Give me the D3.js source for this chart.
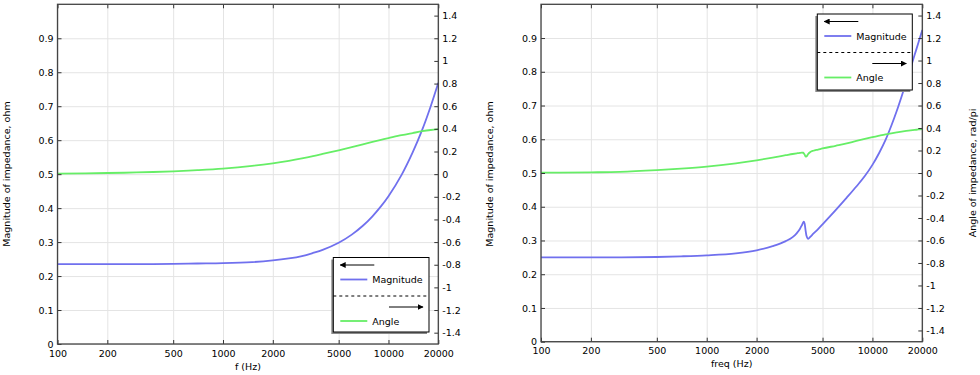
<!DOCTYPE html>
<html>
<head>
<meta charset="utf-8">
<script src="https://cdn.jsdelivr.net/npm/d3@7"></script>
<style>
  body { margin: 0; background: #fff; }
  svg text { font-family: "DejaVu Sans", sans-serif; font-size: 9.5px; fill: #000; }
</style>
</head>
<body>
<div id="chart"></div>
<script>
"use strict"

let width = 980;
let height = 375;

// tick labels
let freqTicks = [100, 200, 500, 1000, 2000, 5000, 10000, 20000];
let magTicks = [0, 0.1, 0.2, 0.3, 0.4, 0.5, 0.6, 0.7, 0.8, 0.9];
let angleTicks = [-1.4, -1.2, -1, -0.8, -0.6, -0.4, -0.2, 0, 0.2, 0.4, 0.6, 0.8, 1, 1.2, 1.4];

// left plot: f (Hz)
let freqA = [100, 200, 300, 500, 700, 1000, 1500, 2000, 2500, 3000, 3500, 4000, 5000, 6000, 7000, 8000, 9000, 10000, 12000, 14000, 16000, 18000, 20000];
let magA = [0.235, 0.235, 0.235, 0.236, 0.237, 0.238, 0.241, 0.246, 0.252, 0.259, 0.268, 0.277, 0.298, 0.322, 0.348, 0.376, 0.405, 0.435, 0.498, 0.564, 0.631, 0.700, 0.769];
let angleA = [0.005, 0.010, 0.015, 0.025, 0.035, 0.049, 0.073, 0.096, 0.118, 0.139, 0.159, 0.178, 0.211, 0.239, 0.264, 0.285, 0.303, 0.318, 0.344, 0.363, 0.379, 0.390, 0.397];

// right plot: freq (Hz), with the little resonance near 3.9 kHz
let freqB = [100, 200, 300, 500, 700, 1000, 1500, 2000, 2500, 3000, 3300, 3500, 3650, 3750, 3820, 3860, 3900, 3950, 4000, 4100, 4200, 4400, 4700, 5000, 6000, 7000, 8000, 9000, 10000, 11000, 12000, 13000, 14000, 15000, 16000, 17000, 18000, 19000, 20000];
let magB = [0.250, 0.250, 0.250, 0.251, 0.253, 0.256, 0.262, 0.271, 0.283, 0.298, 0.310, 0.322, 0.334, 0.345, 0.353, 0.356, 0.350, 0.330, 0.314, 0.305, 0.310, 0.320, 0.334, 0.348, 0.390, 0.427, 0.460, 0.491, 0.524, 0.560, 0.598, 0.640, 0.683, 0.727, 0.770, 0.812, 0.851, 0.888, 0.924];
let angleB = [0.003, 0.006, 0.010, 0.025, 0.038, 0.056, 0.086, 0.113, 0.137, 0.158, 0.169, 0.175, 0.179, 0.181, 0.180, 0.174, 0.163, 0.146, 0.148, 0.170, 0.185, 0.198, 0.208, 0.218, 0.242, 0.263, 0.285, 0.303, 0.318, 0.332, 0.344, 0.353, 0.361, 0.368, 0.374, 0.379, 0.383, 0.387, 0.390];

let magColor = "#7070ee";
let angleColor = "#66ee66";

let svg = d3.select("#chart")
    .append("svg")
    .attr("width", width)
    .attr("height", height);

let defs = svg.append("defs");
defs.append("marker")
    .attr("id", "head")
    .attr("viewBox", "0 0 10 10")
    .attr("refX", 9)
    .attr("refY", 5)
    .attr("markerWidth", 6)
    .attr("markerHeight", 6)
    .attr("markerUnits", "userSpaceOnUse")
    .attr("orient", "auto")
    .append("path")
    .attr("d", "M0,0L10,5L0,10Z")
    .attr("fill", "#000");

function fmt(v) {
    return String(+v.toFixed(1));
}

function drawPanel(p) {
    let x = d3.scaleLog().domain([100, 20000]).range([p.x0, p.x1]);
    let yL = d3.scaleLinear().domain([0, 1]).range([p.y1, p.y0]);
    let yR = d3.scaleLinear().domain([-1.5, 1.5]).range([p.y1, p.y0]);
    let h = p.y1 - p.y0;
    let w = p.x1 - p.x0;

    let g = svg.append("g");

    // grid
    g.append("g")
        .attr("transform", `translate(0,${p.y1})`)
        .call(d3.axisBottom(x).tickValues(freqTicks).tickSize(-h).tickFormat(""))
        .call(s => s.select(".domain").remove())
        .call(s => s.selectAll("line").attr("stroke", "#e4e4e4"));
    g.append("g")
        .attr("transform", `translate(${p.x0},0)`)
        .call(d3.axisLeft(yL).tickValues(magTicks).tickSize(-w).tickFormat(""))
        .call(s => s.select(".domain").remove())
        .call(s => s.selectAll("line").attr("stroke", "#e4e4e4"));

    // curves
    let line = d3.line().curve(p.curve);
    g.append("path")
        .attr("d", line(p.freq.map((f, i) => [x(f), yL(p.mag[i])])))
        .attr("fill", "none")
        .attr("stroke", magColor)
        .attr("stroke-width", 1.8);
    g.append("path")
        .attr("d", line(p.freq.map((f, i) => [x(f), yR(p.angle[i])])))
        .attr("fill", "none")
        .attr("stroke", angleColor)
        .attr("stroke-width", 1.8);

    // axes, ticks pointing in
    let axisStyle = s => {
        s.select(".domain").remove();
        s.selectAll("line").attr("stroke", "#333");
        s.selectAll("text").attr("font-family", null).attr("font-size", null).attr("fill", "#000");
    };
    g.append("g")
        .attr("transform", `translate(0,${p.y1})`)
        .call(d3.axisBottom(x).tickValues(freqTicks).tickSize(-4).tickPadding(6).tickFormat(d3.format("d")))
        .call(axisStyle);
    g.append("g")
        .attr("transform", `translate(0,${p.y0})`)
        .call(d3.axisTop(x).tickValues(freqTicks).tickSize(-4).tickFormat(""))
        .call(axisStyle);
    g.append("g")
        .attr("transform", `translate(${p.x0},0)`)
        .call(d3.axisLeft(yL).tickValues(magTicks).tickSize(-4).tickPadding(4).tickFormat(fmt))
        .call(axisStyle);
    g.append("g")
        .attr("transform", `translate(${p.x1},0)`)
        .call(d3.axisRight(yR).tickValues(angleTicks).tickSize(-4).tickPadding(4).tickFormat(fmt))
        .call(axisStyle);

    g.append("rect")
        .attr("x", p.x0)
        .attr("y", p.y0)
        .attr("width", w)
        .attr("height", h)
        .attr("fill", "none")
        .attr("stroke", "#444")
        .attr("stroke-width", 1.3);

    // titles
    g.append("text")
        .attr("x", (p.x0 + p.x1) / 2)
        .attr("y", p.y1 + 25.5)
        .attr("text-anchor", "middle")
        .text(p.xTitle);
    g.append("text")
        .attr("transform", `translate(${p.leftTitleX},174) rotate(-90)`)
        .attr("dy", "0.35em")
        .attr("text-anchor", "middle")
        .text("Magnitude of impedance, ohm");
    if (p.rightTitle) {
        g.append("text")
            .attr("transform", `translate(${p.rightTitleX},173) rotate(-90)`)
            .attr("dy", "0.35em")
            .attr("text-anchor", "middle")
            .text(p.rightTitle);
    }

    // legend
    let L = p.legend;
    let lg = g.append("g").attr("transform", `translate(${L.x},${L.y})`);
    lg.append("rect")
        .attr("x", -2).attr("y", 2)
        .attr("width", L.w).attr("height", L.h)
        .attr("fill", "#8a8a8a");
    lg.append("rect")
        .attr("width", L.w).attr("height", L.h)
        .attr("fill", "#fff")
        .attr("stroke", "#000")
        .attr("stroke-width", 1);
    lg.append("line")
        .attr("x1", 41).attr("x2", 7)
        .attr("y1", 7.5).attr("y2", 7.5)
        .attr("stroke", "#000").attr("stroke-width", 1)
        .attr("marker-end", "url(#head)");
    lg.append("line")
        .attr("x1", 7).attr("x2", 34)
        .attr("y1", 22).attr("y2", 22)
        .attr("stroke", magColor).attr("stroke-width", 1.8);
    lg.append("text")
        .attr("x", 39).attr("y", 25.5)
        .text("Magnitude");
    lg.append("line")
        .attr("x1", 0).attr("x2", L.w)
        .attr("y1", 38.5).attr("y2", 38.5)
        .attr("stroke", "#000").attr("stroke-width", 1)
        .attr("stroke-dasharray", "3,3");
    lg.append("line")
        .attr("x1", L.w - 40).attr("x2", L.w - 6)
        .attr("y1", 49.5).attr("y2", 49.5)
        .attr("stroke", "#000").attr("stroke-width", 1)
        .attr("marker-end", "url(#head)");
    lg.append("line")
        .attr("x1", 7).attr("x2", 34)
        .attr("y1", 63.5).attr("y2", 63.5)
        .attr("stroke", angleColor).attr("stroke-width", 1.8);
    lg.append("text")
        .attr("x", 39).attr("y", 67)
        .text("Angle");
}

drawPanel({
    x0: 57.5, x1: 438.3, y0: 4.3, y1: 344,
    freq: freqA, mag: magA, angle: angleA,
    curve: d3.curveCatmullRom.alpha(0.5),
    xTitle: "f (Hz)",
    leftTitleX: 7,
    rightTitle: null,
    legend: { x: 333.3, y: 257.5, w: 95.7, h: 74.5 }
});

drawPanel({
    x0: 541, x1: 922.3, y0: 4.3, y1: 341.7,
    freq: freqB, mag: magB, angle: angleB,
    curve: d3.curveMonotoneX,
    xTitle: "freq (Hz)",
    leftTitleX: 490,
    rightTitle: "Angle of impedance, rad/pi",
    rightTitleX: 972.5,
    legend: { x: 817.3, y: 14, w: 95, h: 76 }
});
</script>
</body>
</html>
